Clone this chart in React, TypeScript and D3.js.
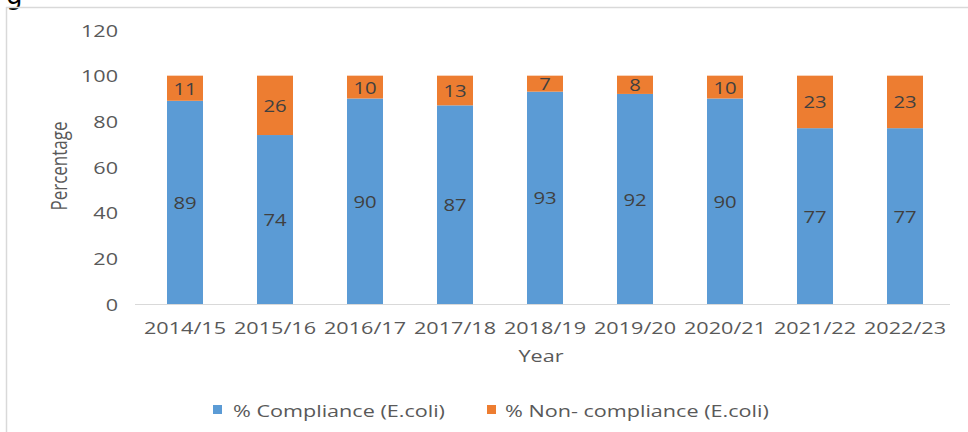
import React from 'react';
import * as d3 from 'd3';

const years = ['2014/15', '2015/16', '2016/17', '2017/18', '2018/19', '2019/20', '2020/21', '2021/22', '2022/23'];
const compliance = [89, 74, 90, 87, 93, 92, 90, 77, 77];
const nonCompliance = [11, 26, 10, 13, 7, 8, 10, 23, 23];
const yTicks = [0, 20, 40, 60, 80, 100, 120];

const W = 968;
const H = 432;
const PLOT = { left: 140, right: 950, top: 30, bottom: 304 };
const BLUE = '#5b9bd5';
const ORANGE = '#ed7d31';
const FONT = '"Open Sans", sans-serif';
// the reference is stretched sideways a little; mimic that on text
const SX = 1.27;

function SText({ x, y, anchor = 'middle', size = 17, fill = '#595959', children }: {
    x: number; y: number; anchor?: string; size?: number; fill?: string; children: React.ReactNode;
}) {
    return (
        <text
            transform={`translate(${x},${y}) scale(${SX},1)`}
            textAnchor={anchor}
            dominantBaseline="central"
            fontSize={size}
            fill={fill}
        >
            {children}
        </text>
    );
}

export default function App() {
    const x = d3.scaleBand<string>().domain(years).range([PLOT.left, PLOT.right])
        .paddingInner(0.6).paddingOuter(0.3);
    const y = d3.scaleLinear().domain([0, 120]).range([PLOT.bottom, PLOT.top]);

    const rows = years.map((yr, i) => ({ yr, c: compliance[i], n: nonCompliance[i] }));
    const stack = d3.stack<{ yr: string; c: number; n: number }>().keys(['c', 'n'])(rows);
    const colors = [BLUE, ORANGE];

    return (
        <svg width={W} height={H} style={{ position: 'absolute', left: 0, top: 0, background: '#fff' }} fontFamily={FONT}>
            <rect width={W} height={H} fill="#fff" />
            <text x={6} y={4} fontSize={26} fill="#000" fontFamily='"DejaVu Sans", sans-serif'>g</text>
            <line x1={6} x2={W} y1={7.5} y2={7.5} stroke="#d9d9d9" strokeWidth={1.5} />
            <line x1={6.5} x2={6.5} y1={7} y2={H} stroke="#d9d9d9" strokeWidth={1.5} />

            {yTicks.map((t) => (
                <SText key={t} x={118} y={y(t)} anchor="end">{t}</SText>
            ))}

            {stack.map((layer, li) => (
                <g key={layer.key}>
                    {layer.map((d) => (
                        <rect
                            key={d.data.yr}
                            x={x(d.data.yr)}
                            width={x.bandwidth()}
                            y={y(d[1])}
                            height={y(d[0]) - y(d[1])}
                            fill={colors[li]}
                        />
                    ))}
                </g>
            ))}

            {stack.map((layer) => (
                <g key={layer.key + '-lbl'}>
                    {layer.map((d) => (
                        <SText
                            key={d.data.yr}
                            x={(x(d.data.yr) ?? 0) + x.bandwidth() / 2}
                            y={y((d[0] + d[1]) / 2)}
                            size={16}
                            fill="#404040"
                        >
                            {d[1] - d[0]}
                        </SText>
                    ))}
                </g>
            ))}

            <line x1={135} x2={PLOT.right} y1={PLOT.bottom + 0.5} y2={PLOT.bottom + 0.5} stroke="#d9d9d9" strokeWidth={1} />

            {years.map((yr) => (
                <SText key={yr} x={(x(yr) ?? 0) + x.bandwidth() / 2} y={327}>{yr}</SText>
            ))}

            <SText x={541} y={355}>Year</SText>
            <text
                transform={`translate(59,166) rotate(-90) scale(1,${SX})`}
                textAnchor="middle"
                dominantBaseline="central"
                fontSize={17}
                fill="#595959"
            >
                Percentage
            </text>

            <rect x={213} y={405} width={9} height={9} fill={BLUE} />
            <SText x={233} y={410} anchor="start" size={17}>% Compliance (E.coli)</SText>
            <rect x={487} y={405} width={9} height={9} fill={ORANGE} />
            <SText x={505} y={410} anchor="start" size={17}>% Non- compliance (E.coli)</SText>
        </svg>
    );
}
